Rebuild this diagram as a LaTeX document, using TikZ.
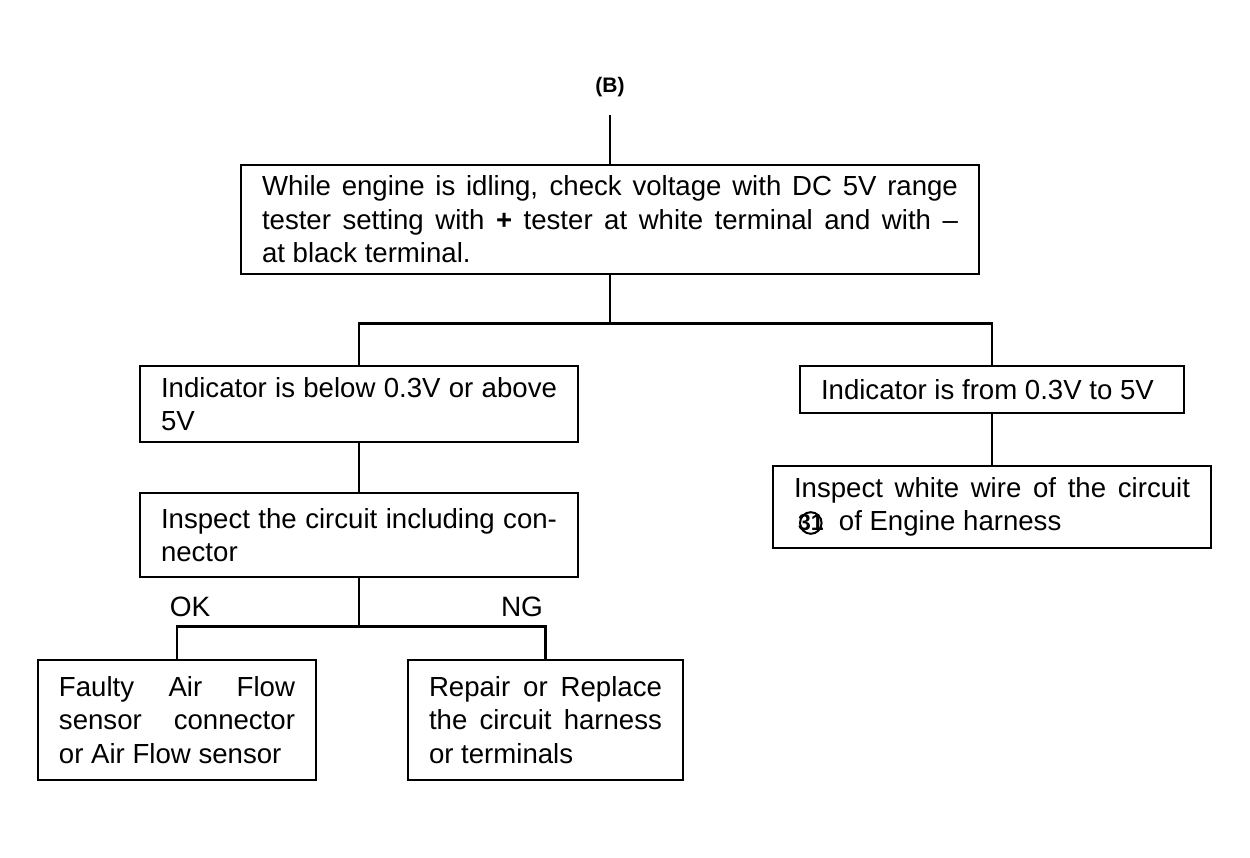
\documentclass[tikz,border=0pt]{standalone}
\usepackage{fontspec}
\setmainfont{Liberation Sans}

\newcommand{\circnum}[1]{\tikz[baseline=(c.base)]{\node [draw=none, inner sep=0pt, outer sep=0pt, minimum width=0pt, minimum height=0pt, text width=, font=\fontsize{11.5}{11.5}\selectfont\bfseries] (c) {#1}; \draw [line width=1pt] (c.center) circle (5.4pt);}}

\begin{document}
\begin{tikzpicture}[x=0.5pt, y=-0.5pt]
\tikzset{ box/.style={draw, line width=1.4pt, align=justify, inner xsep=10.5pt, inner ysep=0pt, font=\fontsize{13.8}{16.75}\selectfont},
          wire/.style={line width=1.4pt},
          lbl/.style={font=\fontsize{14}{14}\selectfont} }

%\draw [lightgray, dashed](0,0) grid [step=50] (1250,858);
\useasboundingbox (0,0) rectangle (1250,858);

\node [font=\fontsize{10.5}{10.5}\selectfont\bfseries] (B) at (610,87) {(B)};

\node [box, text width=348pt, minimum height=54.5pt] (T) at (610,219.5) {While engine is idling, check voltage with DC 5V range\linebreak tester setting with \textbf{+} tester at white terminal and with --\linebreak at black terminal.};

\node [box, text width=198pt, minimum height=38pt] (L) at (359,404) {Indicator is below 0.3V or above\linebreak 5V};
\node [box, text width=171pt, minimum height=23.5pt] (R) at (992,389.5) {Indicator is from 0.3V to 5V};

\node [box, text width=198pt, minimum height=42pt] (I) at (359,535) {Inspect the circuit including con-\linebreak nector};
\node [box, text width=198pt, minimum height=41pt] (W) at (992,507) {Inspect white wire of the circuit\linebreak \hspace*{2pt}\circnum{31}\ \ of Engine harness};

\node [box, text width=118pt, minimum height=60pt] (F) at (177,720) {Faulty Air Flow\linebreak sensor connector\linebreak or Air Flow sensor};
\node [box, text width=116.5pt, minimum height=60pt] (P) at (545.5,720) {Repair or Replace\linebreak the circuit harness\linebreak or terminals};

\node [lbl] (OK) at (190,607) {OK};
\node [lbl] (NG) at (522,607) {NG};

\draw [wire, shorten <=5.5pt] (B.south) -- (T.north);
\draw [wire] (T.south) -- ++(0,48) coordinate (J);
\draw [wire] (L.north) |- (J) -| (R.north);
\draw [wire] (L) -- (I);
\draw [wire] (R) -- (W);
\draw [wire] (I.south) -- ++(0,48) coordinate (K);
\draw [wire] (F.north) |- (K) -| (P.north);
\end{tikzpicture}
\end{document}
